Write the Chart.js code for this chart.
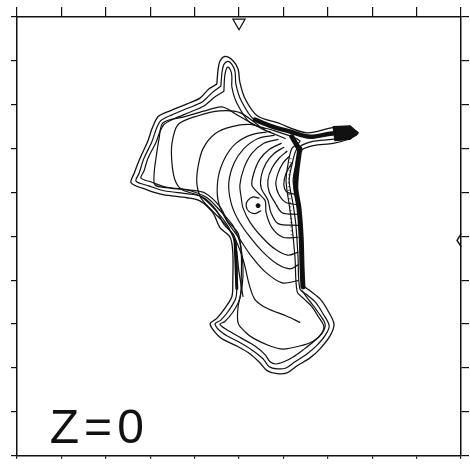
<!DOCTYPE html>
<html>
<head>
<meta charset="utf-8">
<script src="https://cdn.jsdelivr.net/npm/chart.js@4.4.0/dist/chart.umd.min.js"></script>
<style>
  html, body { margin: 0; padding: 0; background: #fff; }
  #wrap { width: 470px; height: 464px; }
</style>
</head>
<body>
<div id="wrap"><canvas id="contourChart" width="470" height="464"></canvas></div>
<script>
// frame: 10 tick intervals on every side, axis runs 0..100, y measured downward
const tickValues = [0, 10, 20, 30, 40, 50, 60, 70, 80, 90, 100];
const panelLabel = ['Z', '=', '0'];

// outer closed contours (wavy rings)
const ring1 = [[45.0,15.3],[45.3,11.9],[45.7,10.1],[46.8,9.0],[48.6,9.9],[49.8,11.9],[50.2,14.9],[51.4,18.7],[54.1,22.5],[58.6,24.1],[65.3,26.4],[71.2,25.2],[75.0,25.5],[76.8,26.4],[75.0,27.7],[71.2,28.8],[66.7,29.3],[63.7,30.6],[62.8,33.8],[62.2,37.4],[63.1,42.8],[63.7,47.3],[64.2,54.7],[64.4,61.0],[66.0,62.4],[68.2,64.2],[70.0,66.9],[71.4,70.0],[70.5,72.7],[68.2,75.7],[66.0,77.7],[63.1,79.5],[60.8,81.1],[58.6,81.3],[56.3,80.6],[54.7,78.8],[52.5,76.8],[49.5,75.0],[45.7,73.0],[43.5,70.0],[45.0,68.7],[46.8,66.4],[48.4,63.7],[48.6,60.4],[48.6,53.6],[48.0,50.2],[45.7,48.0],[44.1,44.6],[41.2,41.9],[38.3,41.2],[32.9,40.5],[29.3,39.4],[25.7,37.8],[26.4,35.6],[27.7,32.2],[29.5,28.2],[30.4,25.5],[31.8,22.7],[34.5,21.4],[38.3,19.8],[41.2,18.5],[43.2,16.4],[45.0,15.3]];
const ring2 = [[45.9,15.8],[46.2,12.4],[46.6,10.8],[47.5,10.1],[48.4,10.8],[49.1,12.4],[49.3,15.3],[50.5,19.1],[53.4,23.4],[58.3,25.0],[65.1,27.3],[70.9,26.4],[74.5,26.4],[75.5,26.8],[74.1,27.3],[70.9,27.9],[66.4,28.4],[63.1,30.0],[61.9,33.8],[61.3,37.4],[62.2,42.8],[62.8,47.3],[63.3,54.7],[63.7,61.9],[65.3,63.3],[67.3,65.1],[68.9,67.6],[70.3,70.3],[69.6,72.3],[67.6,74.8],[65.3,76.8],[62.6,78.6],[60.6,80.0],[58.6,80.2],[56.8,79.7],[55.4,77.9],[52.9,75.9],[50.0,74.1],[46.4,72.1],[44.6,70.0],[45.9,69.1],[47.7,66.9],[49.3,64.0],[49.5,60.4],[49.5,53.6],[48.9,49.8],[46.6,47.3],[44.8,43.9],[41.7,41.0],[38.5,40.3],[33.1,39.6],[29.7,38.5],[26.8,37.4],[27.5,35.6],[28.6,32.2],[30.4,28.4],[31.3,25.7],[32.4,23.6],[34.9,22.3],[38.7,20.7],[41.7,19.4],[43.9,17.3],[45.9,15.8]];
const ring3 = [[46.6,16.9],[46.8,13.3],[47.3,11.5],[47.7,11.5],[48.2,12.4],[48.4,13.7],[48.4,16.0],[49.5,19.6],[52.5,24.1],[57.9,25.9],[63.7,28.2],[61.9,30.0],[61.0,33.8],[60.6,37.4],[61.3,42.8],[61.9,47.3],[62.6,54.7],[63.1,62.6],[64.6,64.2],[66.4,66.0],[67.8,68.2],[69.1,70.5],[68.5,72.3],[66.7,74.1],[64.4,75.9],[62.2,77.5],[60.1,78.6],[58.3,79.1],[57.0,78.6],[55.9,77.0],[53.6,75.0],[50.5,73.2],[47.1,71.2],[45.7,70.0],[46.8,69.4],[48.6,67.3],[50.2,64.2],[50.5,60.4],[50.5,53.6],[49.8,49.3],[47.5,46.6],[45.7,43.2],[42.3,40.1],[38.7,39.4],[33.3,38.7],[30.2,37.6],[27.9,36.7],[28.6,35.1],[29.5,32.2],[31.3,28.6],[32.2,26.1],[33.1,24.5],[35.4,23.2],[39.2,21.6],[42.1,20.3],[44.6,18.2],[46.6,16.9]];
const ring4 = [[60.4,27.7],[55.2,25.5],[50.2,22.7],[46.2,20.5],[42.3,21.4],[37.8,22.7],[32.9,24.1],[32.0,27.7],[31.3,32.2],[30.9,35.6],[31.1,38.3],[34.5,39.0],[39.0,39.6],[42.8,41.2],[45.7,44.1],[48.6,47.5],[50.2,51.4],[50.9,57.0],[50.7,61.5],[49.8,66.0],[49.8,69.8],[51.4,71.8],[53.2,73.2],[57.0,75.0],[59.9,75.7],[63.7,75.0],[66.7,73.9],[68.7,72.1],[69.4,70.0],[67.8,67.3],[65.8,64.6],[64.2,62.4]];

// inner open contours, ending on the steep eastern face
const inner5 = [[54.5,24.8],[50.2,21.8],[45.7,21.4],[40.8,22.5],[36.3,24.5],[34.9,28.8],[34.9,33.3],[35.6,37.2],[37.2,39.4],[41.2,40.8],[44.6,43.9],[47.7,48.0],[49.3,52.5],[50.0,58.1],[50.9,63.7]];
const inner6 = [[55.9,25.5],[52.5,24.5],[48.4,25.0],[44.6,26.6],[41.9,30.0],[40.8,34.0],[40.5,37.8],[41.4,41.2],[43.9,44.1],[47.1,47.5],[49.5,51.4],[51.1,55.9],[52.3,61.0],[53.6,64.4],[56.3,66.4],[60.8,68.2],[63.7,69.6]];
const inner7 = [[57.0,26.1],[52.9,26.8],[49.3,28.8],[46.8,32.2],[45.3,36.7],[45.3,41.9],[47.1,46.2],[50.2,50.7],[52.9,54.7],[55.9,58.1],[59.7,60.6],[63.3,60.1]];
const inner8 = [[57.9,27.0],[54.3,27.7],[51.1,30.0],[48.9,33.3],[47.7,37.8],[48.2,42.3],[49.8,46.2],[52.5,50.2],[55.4,53.6],[58.6,56.3],[61.5,57.4],[63.3,56.5]];
const inner9 = [[58.8,27.9],[55.6,28.8],[52.9,31.1],[51.1,34.5],[50.2,38.3],[50.5,41.2],[50.9,43.5],[52.5,46.8],[55.2,50.2],[58.1,52.9],[61.0,54.3],[63.3,53.6]];
const inner10 = [[59.5,28.8],[56.8,30.2],[54.7,32.4],[53.4,35.4],[52.9,38.3],[54.3,40.1],[55.9,41.9],[56.1,44.6],[57.4,48.0],[59.9,50.2],[63.3,50.2]];
const inner11 = [[60.1,29.7],[57.9,31.1],[56.1,33.3],[55.0,36.3],[55.0,39.0],[56.5,41.7],[57.2,44.6],[58.8,47.1],[63.3,47.5]];
const inner12 = [[60.8,30.6],[59.0,32.2],[57.4,34.5],[56.5,37.2],[56.8,39.9],[58.1,42.3],[59.7,44.6],[63.3,45.0]];
const inner13 = [[61.3,31.8],[59.9,33.3],[58.8,35.6],[58.3,38.1],[59.0,40.5],[60.6,42.3],[63.3,42.8]];
const inner14 = [[61.9,33.3],[60.6,35.6],[60.1,38.1],[60.8,39.9],[63.3,40.5]];
const hollow = [[54.5,41.3],[53.2,41.0],[52.0,41.8],[51.6,43.0],[52.2,44.3],[53.6,44.8],[54.9,44.2]];
const hollowCore = [[54.3,43.0]];

// crowded contours drawn as dark bands
const eastFace = [[63.7,30.0],[63.1,34.5],[62.8,39.0],[63.5,43.5],[64.0,50.2],[64.2,57.0],[64.4,61.5]];
const eastSpeckle = [[61.7,32.2],[61.2,38.0],[61.6,44.0],[61.9,50.2]];
const northFace = [[53.6,23.4],[57.0,24.8],[61.5,26.1],[66.0,27.3],[70.5,26.6],[73.9,26.4],[76.1,26.6]];
const tipBlob = [[71.2,25.0],[75.0,24.8],[76.8,26.4],[75.0,27.9],[71.6,28.2],[71.2,25.0]];
const corner = [[61.9,27.3],[63.7,30.4]];
const westNeck = [[49.1,50.9],[49.3,55.9],[49.5,61.9]];

// frame markers
const topMarker = [[50.0,1.3]];
const sideMarker = [[100,49.5],[99.1,50.9],[100,52.3]];

const toXY = arr => arr.map(p => ({ x: p[0], y: p[1] }));

function contour(arr, width) {
  return {
    data: toXY(arr), showLine: true, pointRadius: 0,
    borderColor: '#111', borderWidth: width, tension: 0.3,
    borderJoinStyle: 'round', borderCapStyle: 'round', fill: false
  };
}

const datasets = [
  contour(ring1, 1.3), contour(ring2, 1.2), contour(ring3, 1.2), contour(ring4, 1.2),
  contour(inner5, 1.2), contour(inner6, 1.2), contour(inner7, 1.2), contour(inner8, 1.2),
  contour(inner9, 1.2), contour(inner10, 1.2), contour(inner11, 1.2), contour(inner12, 1.2),
  contour(inner13, 1.2), contour(inner14, 1.2), contour(hollow, 1.2),
  contour(eastFace, 5), contour(northFace, 4.5), contour(corner, 5), contour(westNeck, 3),
  Object.assign(contour(eastSpeckle, 2), { borderColor: '#666', borderDash: [1, 3], borderCapStyle: 'butt' }),
  Object.assign(contour(tipBlob, 1.2), { tension: 0, fill: 'shape', backgroundColor: '#111' }),
  { data: toXY(hollowCore), showLine: false, pointRadius: 2, backgroundColor: '#111', borderColor: '#111' },
  { data: toXY(topMarker), showLine: false, pointStyle: 'triangle', rotation: 180, pointRadius: 7,
    backgroundColor: '#fff', borderColor: '#111', borderWidth: 1.3, clip: false },
  Object.assign(contour(sideMarker, 1.5), { tension: 0, clip: false })
];

function frameAxis(position, tickLength, size) {
  return {
    type: 'linear', position: position, display: true, min: 0, max: 100,
    reverse: position === 'left' || position === 'right',
    afterBuildTicks: scale => { scale.ticks = tickValues.map(v => ({ value: v })); },
    ticks: { display: false },
    grid: { display: true, drawOnChartArea: false, drawTicks: true, tickLength: tickLength, color: '#111', lineWidth: 1.2 },
    border: { display: true, color: '#111', width: 1.5 },
    afterFit: scale => { if (scale.isHorizontal()) scale.height = size; else scale.width = size; }
  };
}

const labelPlugin = {
  id: 'panelLabel',
  beforeDraw(chart) {
    const c = chart.ctx;
    c.save();
    c.fillStyle = '#fff';
    c.fillRect(0, 0, chart.width, chart.height);
    c.restore();
  },
  afterDraw(chart) {
    const c = chart.ctx;
    const xs = [64.5, 98, 130.5];
    c.save();
    c.fillStyle = '#111';
    c.font = '48px "Liberation Sans", Arial, sans-serif';
    c.textAlign = 'center';
    c.textBaseline = 'alphabetic';
    panelLabel.forEach((ch, i) => c.fillText(ch, xs[i], 443));
    c.restore();
  }
};

const contourChart = new Chart(document.getElementById('contourChart').getContext('2d'), {
  type: 'scatter',
  data: { datasets: datasets },
  options: {
    responsive: false,
    animation: false,
    layout: { padding: 0 },
    plugins: { legend: { display: false }, tooltip: { enabled: false } },
    scales: {
      x: frameAxis('bottom', 3, 3),
      x2: frameAxis('top', 10, 17),
      y: frameAxis('left', 6, 17),
      y2: frameAxis('right', 8, 9)
    }
  },
  plugins: [labelPlugin]
});
</script>
</body>
</html>
